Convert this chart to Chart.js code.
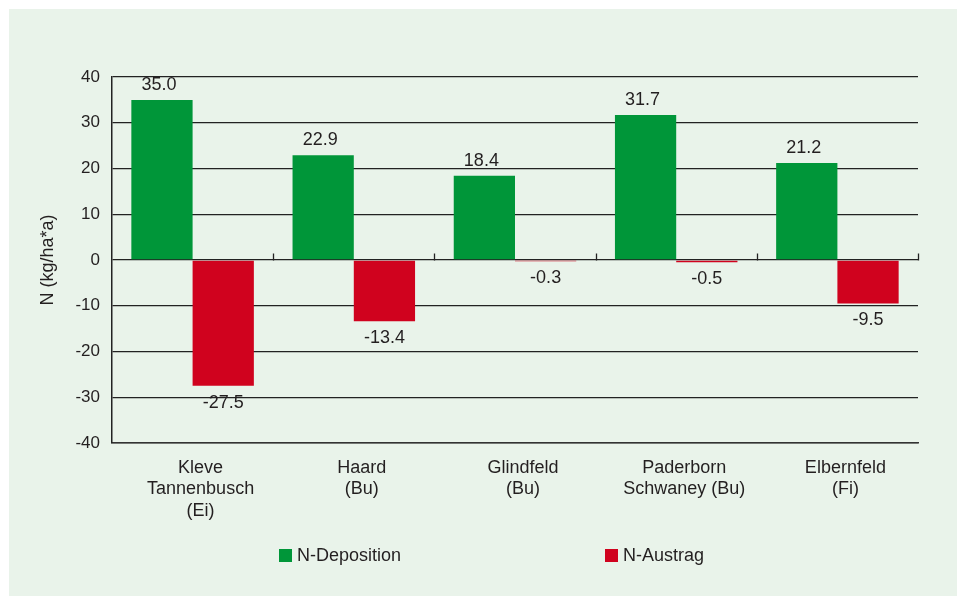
<!DOCTYPE html>
<html>
<head>
<meta charset="utf-8">
<script src="https://cdn.jsdelivr.net/npm/chart.js@4/dist/chart.umd.min.js"></script>
<style>
  html, body { margin: 0; padding: 0; background: #ffffff; }
  #wrap { width: 957px; height: 596px; position: relative; }
</style>
</head>
<body>
<div id="wrap"><canvas id="c" width="957" height="596"></canvas></div>
<script>
const categories = [
  ['Kleve', 'Tannenbusch', '(Ei)'],
  ['Haard', '(Bu)'],
  ['Glindfeld', '(Bu)'],
  ['Paderborn', 'Schwaney (Bu)'],
  ['Elbernfeld', '(Fi)']
];
const seriesNames = ['N-Deposition', 'N-Austrag'];
const depositionValues = [35.0, 22.9, 18.4, 31.7, 21.2];
const austragValues = [-27.5, -13.4, -0.3, -0.5, -9.5];
const yTickValues = [-40, -30, -20, -10, 0, 10, 20, 30, 40];
const yTitle = 'N (kg/ha*a)';

const FONT = '"Liberation Sans", Arial, Helvetica, sans-serif';
const TEXT = '#231f20';
const GREEN = '#009639';
const RED = '#d0021e';

const backgroundPlugin = {
  id: 'panelBg',
  beforeDraw(chart) {
    const ctx = chart.ctx;
    ctx.save();
    ctx.fillStyle = '#ffffff';
    ctx.fillRect(0, 0, chart.width, chart.height);
    ctx.fillStyle = '#e9f3ea';
    ctx.fillRect(9, 9, chart.width - 9, chart.height - 9);
    ctx.restore();
  }
};

const valueLabelPlugin = {
  id: 'valueLabels',
  afterDatasetsDraw(chart) {
    const ctx = chart.ctx;
    ctx.save();
    ctx.font = '18px ' + FONT;
    ctx.fillStyle = TEXT;
    ctx.textAlign = 'center';
    chart.data.datasets.forEach((ds, di) => {
      const meta = chart.getDatasetMeta(di);
      meta.data.forEach((bar, i) => {
        const v = ds.data[i];
        const txt = v.toFixed(1);
        if (v >= 0) {
          ctx.textBaseline = 'bottom';
          ctx.fillText(txt, bar.x - 3, bar.y - 6);
        } else {
          ctx.textBaseline = 'top';
          ctx.fillText(txt, bar.x, bar.y + 8);
        }
      });
    });
    ctx.restore();
  }
};

const zeroTicksPlugin = {
  id: 'zeroTicks',
  afterDraw(chart) {
    const x = chart.scales.x, y = chart.scales.y;
    const y0 = Math.round(y.getPixelForValue(0)) + 0.5;
    const ctx = chart.ctx;
    ctx.save();
    ctx.strokeStyle = '#222';
    ctx.lineWidth = 1.3;
    const n = categories.length;
    for (let i = 1; i <= n; i++) {
      const px = x.getPixelForValue(i - 0.5);
      ctx.beginPath();
      ctx.moveTo(Math.round(px) + 0.5, y0);
      ctx.lineTo(Math.round(px) + 0.5, y0 - 7);
      ctx.stroke();
    }
    ctx.restore();
  }
};

const legendPlugin = {
  id: 'customLegend',
  afterDraw(chart) {
    const ctx = chart.ctx;
    const items = [
      { x: 279, color: chart.data.datasets[0].backgroundColor, text: chart.data.datasets[0].label },
      { x: 605, color: chart.data.datasets[1].backgroundColor, text: chart.data.datasets[1].label }
    ];
    ctx.save();
    ctx.font = '18px ' + FONT;
    ctx.textBaseline = 'middle';
    ctx.textAlign = 'left';
    items.forEach(it => {
      ctx.fillStyle = it.color;
      ctx.fillRect(it.x, 549, 13, 13);
      ctx.fillStyle = TEXT;
      ctx.fillText(it.text, it.x + 18, 556);
    });
    ctx.restore();
  }
};

new Chart(document.getElementById('c'), {
  type: 'bar',
  data: {
    labels: categories,
    datasets: [
      { label: seriesNames[0], data: depositionValues, backgroundColor: GREEN, borderWidth: 0 },
      { label: seriesNames[1], data: austragValues, backgroundColor: RED, borderWidth: 0 }
    ]
  },
  options: {
    responsive: false,
    animation: false,
    devicePixelRatio: 1,
    layout: { padding: { left: 0, right: 39, top: 77, bottom: 0 } },
    datasets: { bar: { categoryPercentage: 0.76, barPercentage: 1.0 } },
    plugins: { legend: { display: false }, tooltip: { enabled: false } },
    scales: {
      x: {
        grid: { display: false },
        border: { display: true, color: '#333', width: 1.5 },
        ticks: { color: TEXT, font: { family: FONT, size: 18, lineHeight: 1.2 }, padding: 6, labelOffset: 8, maxRotation: 0, autoSkip: false },
        afterFit(scale) { scale.height = 153; }
      },
      y: {
        min: -40, max: 40,
        afterBuildTicks(scale) { scale.ticks = yTickValues.map(v => ({ value: v })); },
        grid: { color: '#222', lineWidth: 1.3, drawTicks: false },
        border: { display: true, color: '#222', width: 1.5 },
        ticks: { color: TEXT, font: { family: FONT, size: 17 }, padding: 12 },
        title: { display: true, text: yTitle, color: TEXT, font: { family: FONT, size: 18 }, padding: { top: 37, bottom: 0 } },
        afterFit(scale) { scale.width = 112; }
      }
    }
  },
  plugins: [backgroundPlugin, valueLabelPlugin, zeroTicksPlugin, legendPlugin]
});
</script>
</body>
</html>
